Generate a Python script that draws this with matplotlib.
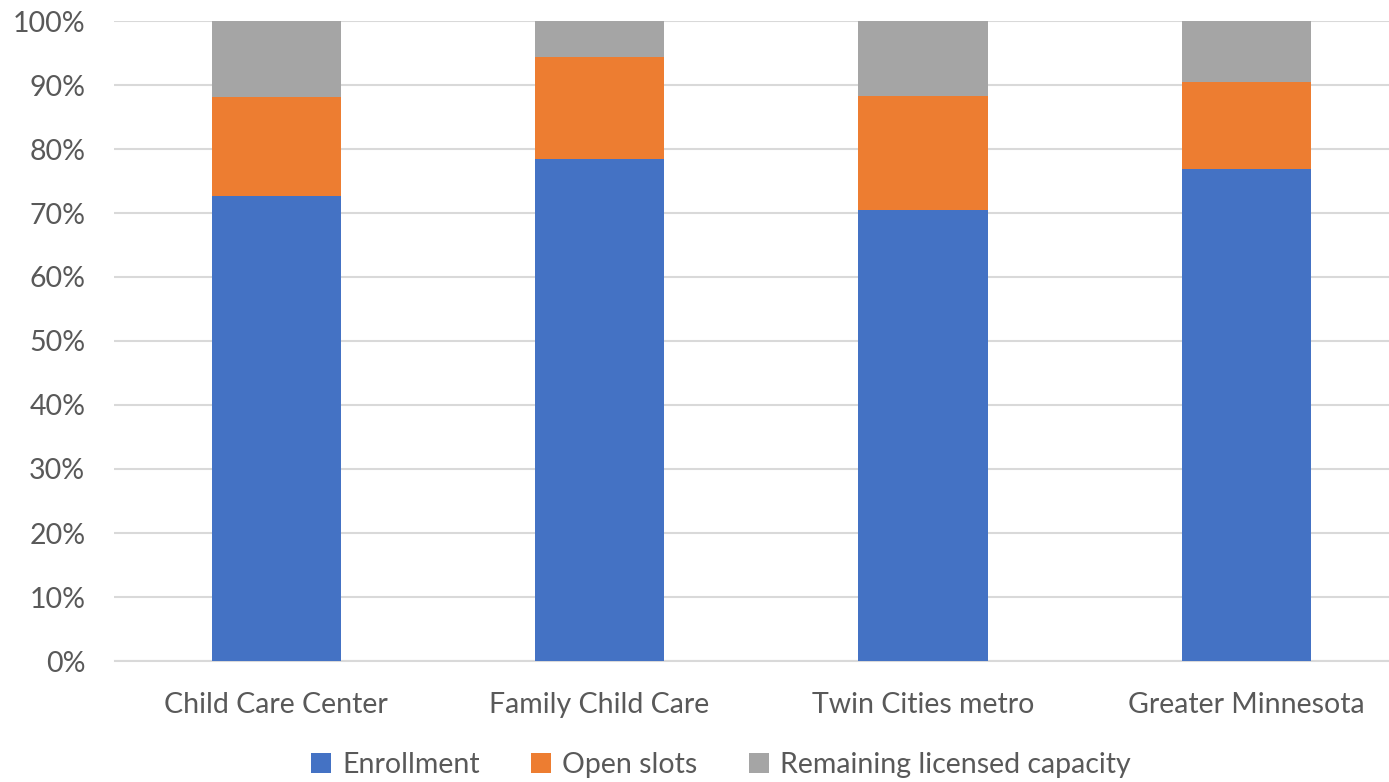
import matplotlib
matplotlib.use("Agg")
import matplotlib.pyplot as plt
import numpy as np

categories = ["Child Care Center", "Family Child Care", "Twin Cities metro", "Greater Minnesota"]
enrollment = [72.6, 78.5, 70.5, 76.8]
open_slots = [15.6, 15.9, 17.8, 13.7]
remaining = [100 - e - o for e, o in zip(enrollment, open_slots)]
series_names = ["Enrollment", "Open slots", "Remaining licensed capacity"]
colors = ["#4472C4", "#ED7D31", "#A5A5A5"]

plt.rcParams['font.family'] = ['Lato', 'DejaVu Sans']

fig = plt.figure(figsize=(13.89, 7.82), dpi=100)
ax = fig.add_axes([114.5/1389, 1 - 661/782, (1408-114.5)/1389, (661-21)/782])

x = np.arange(len(categories))
w = 0.4
ax.bar(x, enrollment, w, color=colors[0], label=series_names[0], zorder=3)
ax.bar(x, open_slots, w, bottom=enrollment, color=colors[1], label=series_names[1], zorder=3)
bottom2 = [e + o for e, o in zip(enrollment, open_slots)]
ax.bar(x, remaining, w, bottom=bottom2, color=colors[2], label=series_names[2], zorder=3)

ax.set_xlim(-0.5, len(categories) - 0.5)
ax.set_ylim(0, 100)
ax.set_yticks(np.arange(0, 101, 10))
ax.set_yticklabels([f"{v}%" for v in range(0, 101, 10)])
ax.set_xticks(x)
ax.set_xticklabels(categories)
ax.yaxis.grid(True, color="#D9D9D9", lw=1.5, zorder=0)
for s in ["top", "right", "left"]:
    ax.spines[s].set_visible(False)
ax.spines["bottom"].set_color("#D9D9D9")
ax.spines["bottom"].set_linewidth(1.5)
ax.tick_params(axis="both", length=0, labelsize=20.5, colors="#595959")
ax.tick_params(axis="x", pad=22)
ax.tick_params(axis="y", pad=21)

leg = fig.legend(loc="lower center", bbox_to_anchor=(0.519, -0.028), ncol=3, frameon=False,
                 fontsize=20.5, handlelength=0.7, handleheight=0.7, columnspacing=1.8, handletextpad=0.4)
for t in leg.get_texts():
    t.set_color("#595959")

fig.savefig("out.png", dpi=100)
